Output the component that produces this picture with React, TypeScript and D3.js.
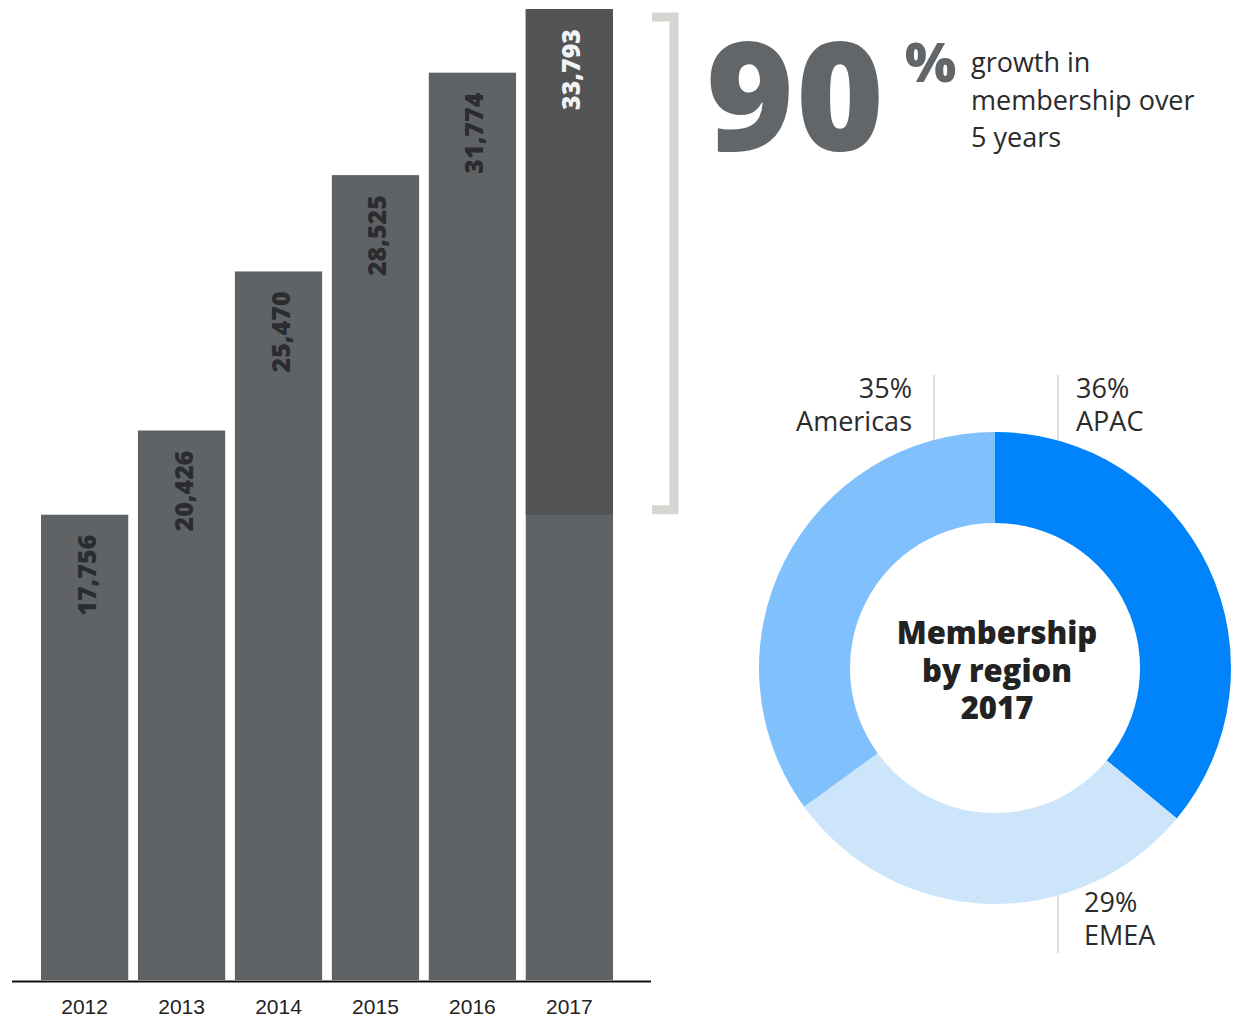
import React from "react";
import * as d3 from "d3";

const years = ["2012", "2013", "2014", "2015", "2016", "2017"];
const members = [17756, 20426, 25470, 28525, 31774, 33793];
const regions = ["APAC", "EMEA", "Americas"];
const regionShares = [36, 29, 35];
const regionColors = ["#0083fb", "#cce5fb", "#80c0fc"];
const growthPct = "90";
const growthText = ["growth in", "membership over", "5 years"];
const donutTitle = ["Membership", "by region", "2017"];

const FONT = "'Open Sans', Lato, sans-serif";

export default function App() {
  const baseY = 980;
  const x = d3.scaleBand<string>().domain(years).range([41, 613]).paddingInner(0.1).paddingOuter(0);
  const y = d3.scaleLinear().domain([3000, 33793]).range([baseY, 9]);
  const bw = x.bandwidth();
  const lastIdx = years.length - 1;
  const splitY = y(members[0]);

  const cx = 995, cy = 668, rOut = 236, rIn = 145;
  const pie = d3.pie<number>().sort(null).value((d) => d);
  const arcs = pie(regionShares);
  const arc = d3.arc<d3.PieArcDatum<number>>().innerRadius(rIn).outerRadius(rOut);

  const fmt = d3.format(",");

  const label = (lx: number, ly: number, anchor: string, lines: string[]) => (
    <text x={lx} y={ly} textAnchor={anchor} fontSize={27} fill="#2b2b2b">
      {lines.map((l, i) => (
        <tspan key={l} x={lx} dy={i === 0 ? 0 : 33}>{l}</tspan>
      ))}
    </text>
  );

  return (
    <svg width={1240} height={1018} style={{ position: "absolute", left: 0, top: 0, background: "#fff" }} fontFamily={FONT}>
      {members.map((v, i) => {
        const bx = x(years[i])!;
        const top = y(v);
        const isLast = i === lastIdx;
        return (
          <g key={years[i]}>
            <rect x={bx} y={top} width={bw} height={baseY - top} fill="#5f6366" />
            {isLast && <rect x={bx} y={top} width={bw} height={splitY - top} fill="#525456" />}
            <text
              transform={`translate(${bx + bw / 2 + 1},${top + 20}) rotate(-90)`}
              textAnchor="end"
              dominantBaseline="central"
              fontSize={25}
              fontWeight={800}
              fill={isLast ? "#f2f2f2" : "#2a2c2f"}
            >
              {fmt(v)}
            </text>
            <text x={bx + bw / 2} y={1014} textAnchor="middle" fontSize={21} fill="#222" fontFamily="'Liberation Sans', Arial, sans-serif">
              {years[i]}
            </text>
          </g>
        );
      })}
      <line x1={12} x2={651} y1={981.5} y2={981.5} stroke="#111" strokeWidth={2} />

      <path
        d={`M652,${y(members[lastIdx]) + 8} H674 V${splitY - 5} H652`}
        fill="none"
        stroke="#d5d6d2"
        strokeWidth={9}
      />

      <text x={706} y={151} fontSize={150} fontWeight={800} fill="#636669" letterSpacing={2}>
        {growthPct}
      </text>
      <text x={905} y={82} fontSize={54} fontWeight={800} fill="#636669">%</text>
      <text x={971} y={72} fontSize={27} fill="#2b2b2b">
        {growthText.map((t, i) => (
          <tspan key={t} x={971} dy={i === 0 ? 0 : 37.5}>{t}</tspan>
        ))}
      </text>

      <g transform={`translate(${cx},${cy})`}>
        {arcs.map((a, i) => (
          <path key={regions[i]} d={arc(a)!} fill={regionColors[i]} />
        ))}
      </g>
      <text x={997} y={644} textAnchor="middle" fontSize={31} fontWeight={800} fill="#222">
        {donutTitle.map((t, i) => (
          <tspan key={t} x={997} dy={i === 0 ? 0 : 37.5}>{t}</tspan>
        ))}
      </text>

      <line x1={934} x2={934} y1={375} y2={440} stroke="#dedede" strokeWidth={2} />
      {label(912, 398, "end", [`${regionShares[2]}%`, regions[2]])}

      <line x1={1058} x2={1058} y1={375} y2={440} stroke="#dedede" strokeWidth={2} />
      {label(1076, 398, "start", [`${regionShares[0]}%`, regions[0]])}

      <line x1={1058} x2={1058} y1={895} y2={953} stroke="#dedede" strokeWidth={2} />
      {label(1084, 912, "start", [`${regionShares[1]}%`, regions[1]])}
    </svg>
  );
}
